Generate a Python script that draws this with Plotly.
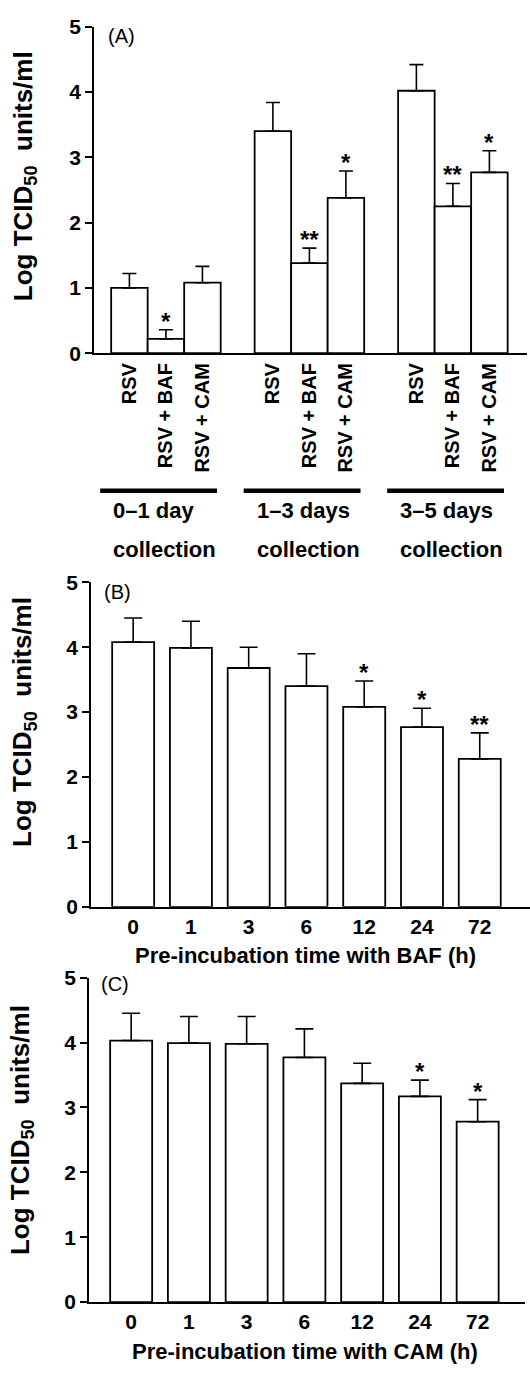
import plotly.graph_objects as go

# ---------------- data ----------------
A_groups = ["0–1 day", "1–3 days", "3–5 days"]
A_treatments = ["RSV", "RSV + BAF", "RSV + CAM"]
A_values = [[1.00, 0.22, 1.08], [3.40, 1.38, 2.38], [4.02, 2.25, 2.77]]
A_err = [[0.22, 0.14, 0.25], [0.44, 0.23, 0.41], [0.40, 0.35, 0.33]]
A_sig = [["", "*", ""], ["", "**", "*"], ["", "**", "*"]]

times = ["0", "1", "3", "6", "12", "24", "72"]
B_values = [4.08, 3.99, 3.68, 3.40, 3.08, 2.77, 2.28]
B_err = [0.37, 0.41, 0.32, 0.50, 0.40, 0.29, 0.40]
B_sig = ["", "", "", "", "*", "*", "**"]

C_values = [4.03, 3.99, 3.98, 3.77, 3.37, 3.17, 2.78]
C_err = [0.42, 0.41, 0.42, 0.44, 0.31, 0.25, 0.34]
C_sig = ["", "", "", "", "", "*", "*"]

y_ticks = [0, 1, 2, 3, 4, 5]

# ---------------- layout helpers ----------------
W, H = 530, 1378
FONT = "Liberation Sans, Arial, Helvetica, sans-serif"


def px_x(p):
    return p / W


def px_y(p):
    return 1 - p / H


fig = go.Figure()

# ---- Panel A ----
pitch = 3.93
ax_x, ax_lab, ax_y, ax_err, ax_sig = [], [], [], [], []
for g, grp in enumerate(A_groups):
    for i, t in enumerate(A_treatments):
        ax_x.append(g * pitch + i)
        ax_lab.append(t)
        ax_y.append(A_values[g][i])
        ax_err.append(A_err[g][i])
        ax_sig.append(A_sig[g][i])

t_idx = list(range(len(times)))

bar_style = dict(color="white", line=dict(color="black", width=1.8))

fig.add_trace(go.Bar(
    x=ax_x, y=ax_y, width=1.0, marker=bar_style,
    error_y=dict(type="data", symmetric=False, array=ax_err,
                 arrayminus=[0] * len(ax_err), color="black",
                 thickness=1.6, width=7),
    xaxis="x", yaxis="y", showlegend=False))

fig.add_trace(go.Bar(
    x=t_idx, y=B_values, width=0.727, marker=bar_style,
    error_y=dict(type="data", symmetric=False, array=B_err,
                 arrayminus=[0] * len(B_err), color="black",
                 thickness=1.6, width=9),
    xaxis="x2", yaxis="y2", showlegend=False))

fig.add_trace(go.Bar(
    x=t_idx, y=C_values, width=0.727, marker=bar_style,
    error_y=dict(type="data", symmetric=False, array=C_err,
                 arrayminus=[0] * len(C_err), color="black",
                 thickness=1.6, width=9),
    xaxis="x3", yaxis="y3", showlegend=False))

yax_common = dict(range=[0, 5], tickvals=y_ticks, ticks="outside", ticklen=7,
                  tickwidth=1.5, tickcolor="black", showline=True,
                  linecolor="black", linewidth=1.8, showgrid=False,
                  zeroline=False, fixedrange=True,
                  tickfont=dict(family=FONT, size=21, color="black", weight="bold"))
xax_common = dict(showline=True, linecolor="black", linewidth=1.8,
                  showgrid=False, zeroline=False, ticks="", fixedrange=True)

fig.update_layout(
    width=W, height=H, margin=dict(l=0, r=0, t=0, b=0),
    paper_bgcolor="white", plot_bgcolor="white",
    xaxis=dict(domain=[px_x(94), px_x(527)], anchor="y",
               range=[-0.97, 10.89], tickvals=ax_x, ticktext=ax_lab,
               tickangle=-90, ticklabelstandoff=0,
               tickfont=dict(family=FONT, size=20, color="black", weight="bold"),
               **xax_common),
    yaxis=dict(domain=[px_y(347), px_y(15)], anchor="x", **yax_common),
    xaxis2=dict(domain=[px_x(91), px_x(530)], anchor="y2",
                range=[-0.73, 6.87], tickvals=t_idx, ticktext=times,
                tickfont=dict(family=FONT, size=21, color="black", weight="bold"),
                **xax_common),
    yaxis2=dict(domain=[px_y(910), px_y(580)], anchor="x2", **yax_common),
    xaxis3=dict(domain=[px_x(89), px_x(525)], anchor="y3",
                range=[-0.73, 6.82], tickvals=t_idx, ticktext=times,
                tickfont=dict(family=FONT, size=21, color="black", weight="bold"),
                **xax_common),
    yaxis3=dict(domain=[px_y(1312), px_y(982)], anchor="x3", **yax_common),
)

annotations = []
star_font = dict(family=FONT, size=24, color="black", weight="bold")

# significance stars
for xs, vals, errs, sigs, xr, yr in [
    (ax_x, ax_y, ax_err, ax_sig, "x", "y"),
    (t_idx, B_values, B_err, B_sig, "x2", "y2"),
    (t_idx, C_values, C_err, C_sig, "x3", "y3"),
]:
    for xv, v, e, s in zip(xs, vals, errs, sigs):
        if s:
            annotations.append(dict(x=xv, y=v + e, xref=xr, yref=yr, text=s,
                                    showarrow=False, yanchor="bottom",
                                    yshift=-7, font=star_font))

# panel letters
letter_font = dict(family=FONT, size=20, color="black")
for txt, x, y in [("(A)", 106, 24), ("(B)", 102, 590), ("(C)", 99, 989)]:
    annotations.append(dict(x=px_x(x), y=px_y(y), xref="paper", yref="paper",
                            text=txt, showarrow=False, xanchor="left",
                            yanchor="middle", font=letter_font))

# y-axis titles
ytitle = "Log TCID<sub>50</sub>  units/ml"
title_font = dict(family=FONT, size=26, color="black", weight="bold")
for x, y in [(24, 167), (24, 722), (21, 1137)]:
    annotations.append(dict(x=px_x(x), y=px_y(y), xref="paper", yref="paper",
                            text=ytitle, textangle=-90, showarrow=False,
                            xanchor="center", yanchor="middle", font=title_font))

# x-axis titles (B, C)
xt_font = dict(family=FONT, size=22, color="black", weight="bold")
for txt, x, y in [("Pre-incubation time with BAF (h)", 305, 960),
                  ("Pre-incubation time with CAM (h)", 305, 1362)]:
    annotations.append(dict(x=px_x(x), y=px_y(y), xref="paper", yref="paper",
                            text=txt, showarrow=False, xanchor="center",
                            yanchor="middle", font=xt_font))

# group labels for panel A
grp_font = dict(family=FONT, size=22, color="black", weight="bold")
shapes = []
for g, grp in enumerate(A_groups):
    x0 = g * pitch - 0.8
    x1 = g * pitch + 2.4
    shapes.append(dict(type="line", xref="x", yref="paper",
                       x0=x0, x1=x1, y0=px_y(487), y1=px_y(487),
                       line=dict(color="black", width=4.5)))
    annotations.append(dict(x=g * pitch - 0.5, y=px_y(507), xref="x", yref="paper",
                            text=grp, showarrow=False, xanchor="left",
                            yanchor="middle", font=grp_font))
    annotations.append(dict(x=g * pitch - 0.5, y=px_y(547), xref="x", yref="paper",
                            text="collection", showarrow=False, xanchor="left",
                            yanchor="middle", font=grp_font))

fig.update_layout(annotations=annotations, shapes=shapes)

fig.write_html(
    "out.html",
    config={"displayModeBar": False},
    post_script="document.body.style.margin='0';document.body.style.overflow='hidden';",
)
